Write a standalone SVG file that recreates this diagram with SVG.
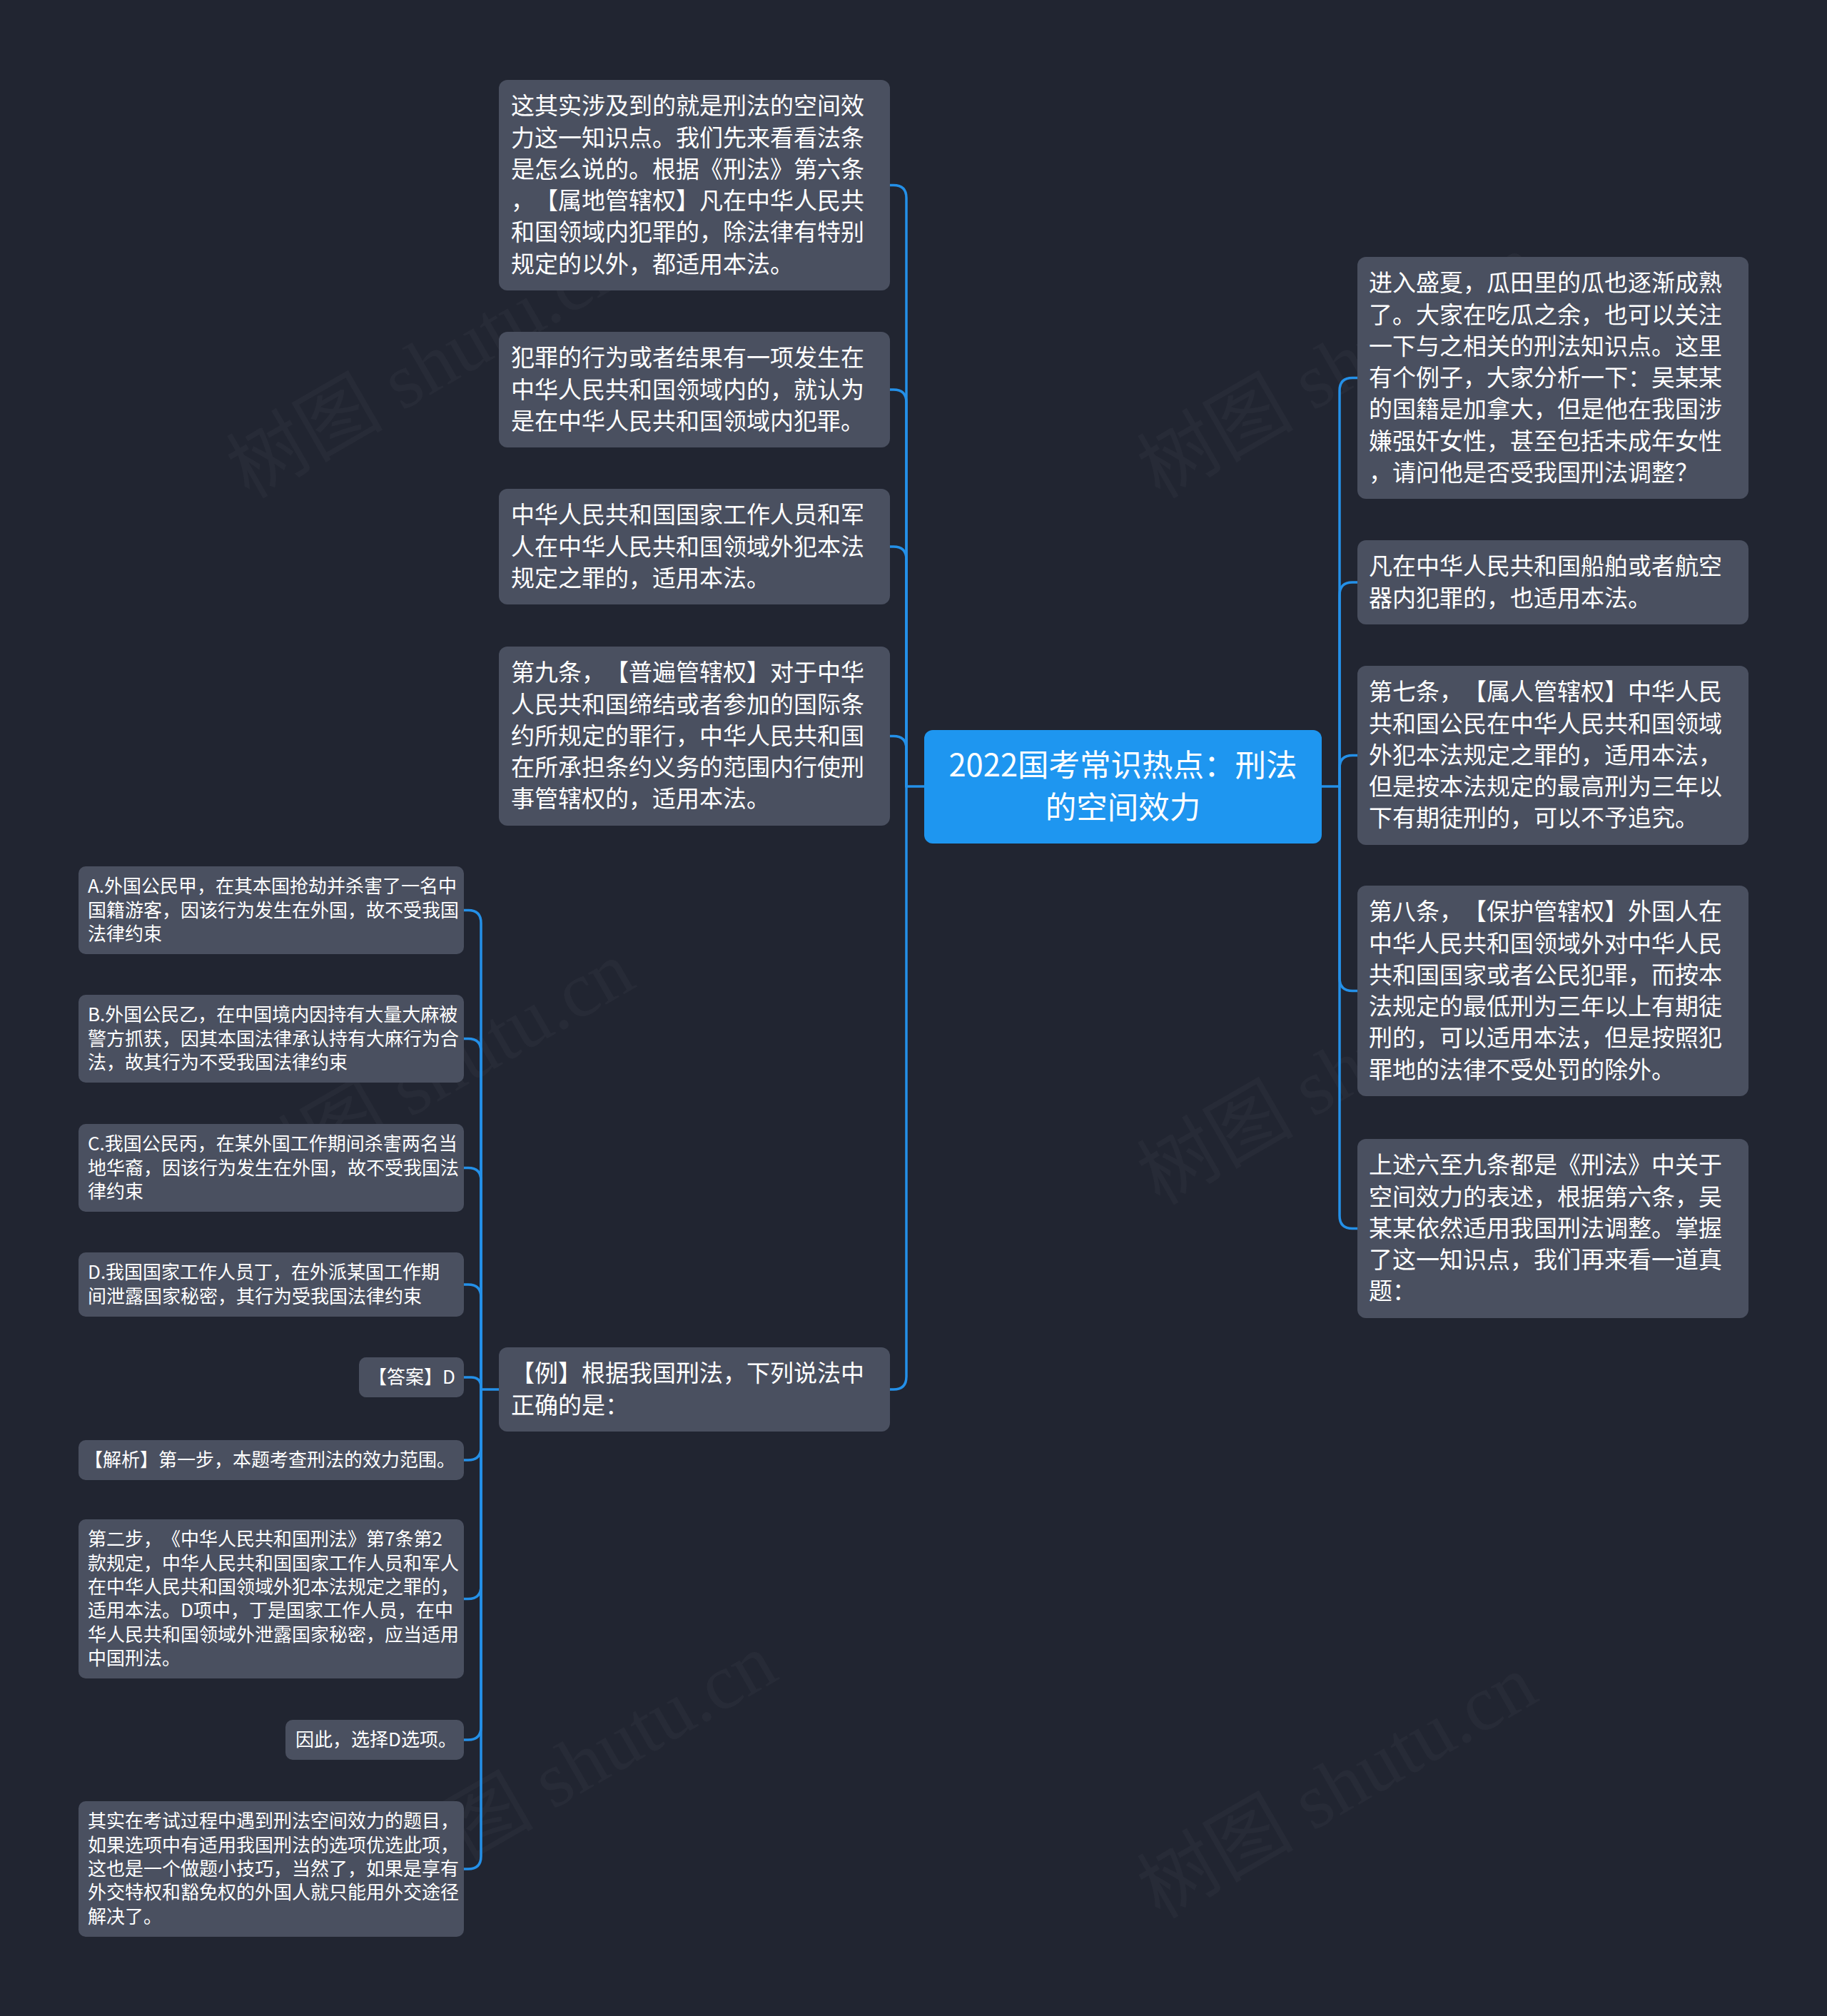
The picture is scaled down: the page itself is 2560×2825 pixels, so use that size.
<svg xmlns="http://www.w3.org/2000/svg" width="2560" height="2825" viewBox="0 0 2560 2825">
<style>
.bg{fill:#212531}
.node rect{fill:#4a5060}
.root rect{fill:#1e96f0}
.t{font-family:"Noto Sans CJK SC","Noto Sans",sans-serif;fill:#ffffff;text-spacing-trim:space-all}
.m{font-size:33px}
.s{font-size:26px}
.r{font-size:43.5px}
.wm{font-family:"Liberation Serif","Noto Sans CJK SC",serif;font-size:110px;fill:#ffffff;fill-opacity:0.03}
#connectors path{fill:none;stroke:#2490e8;stroke-width:3.5;stroke-linecap:round}
</style>
<rect class="bg" x="0" y="0" width="2560" height="2825"/>
<g id="watermarks">
<text class="wm" transform="translate(349,700) rotate(-30)">树图 shutu.cn</text>
<text class="wm" transform="translate(1625,700) rotate(-30)">树图 shutu.cn</text>
<text class="wm" transform="translate(360,1690) rotate(-30)">树图 shutu.cn</text>
<text class="wm" transform="translate(1625,1690) rotate(-30)">树图 shutu.cn</text>
<text class="wm" transform="translate(560,2660) rotate(-30)">树图 shutu.cn</text>
<text class="wm" transform="translate(1625,2690) rotate(-30)">树图 shutu.cn</text>
</g>
<g id="connectors">
<path d="M1295,1102 H1270"/>
<path d="M1270,1102 V277.5 Q1270,259.5 1252,259.5 H1247"/>
<path d="M1270,1102 V564 Q1270,546 1252,546 H1247"/>
<path d="M1270,1102 V784 Q1270,766 1252,766 H1247"/>
<path d="M1270,1102 V1049.5 Q1270,1031.5 1252,1031.5 H1247"/>
<path d="M1270,1102 V1929 Q1270,1947 1252,1947 H1247"/>
<path d="M1852,1102 H1877"/>
<path d="M1877,1102 V547.5 Q1877,529.5 1895,529.5 H1902"/>
<path d="M1877,1102 V834 Q1877,816 1895,816 H1902"/>
<path d="M1877,1102 V1076.5 Q1877,1058.5 1895,1058.5 H1902"/>
<path d="M1877,1102 V1370.5 Q1877,1388.5 1895,1388.5 H1902"/>
<path d="M1877,1102 V1703.5 Q1877,1721.5 1895,1721.5 H1902"/>
<path d="M699,1947 H674"/>
<path d="M674,1947 V1293.5 Q674,1275.5 656,1275.5 H650"/>
<path d="M674,1947 V1473.5 Q674,1455.5 656,1455.5 H650"/>
<path d="M674,1947 V1654.5 Q674,1636.5 656,1636.5 H650"/>
<path d="M674,1947 V1818 Q674,1800 656,1800 H650"/>
<path d="M674,1947 V1944 Q674,1930 660,1930 H650"/>
<path d="M674,1947 V2028 Q674,2046 656,2046 H650"/>
<path d="M674,1947 V2222.5 Q674,2240.5 656,2240.5 H650"/>
<path d="M674,1947 V2420 Q674,2438 656,2438 H650"/>
<path d="M674,1947 V2601 Q674,2619 656,2619 H650"/>
</g>
<g id="root" class="root">
<rect x="1295" y="1023" width="557" height="159" rx="12"/>
<text class="t r" text-anchor="middle" x="1573.5" y="1088"><tspan x="1573.5">2022国考常识热点：刑法</tspan><tspan x="1573.5" dy="59">的空间效力</tspan></text>
</g>
<g id="n-l1" class="node">
<rect x="699" y="112" width="548" height="295" rx="12"/>
<text class="t m" x="716" y="160.2"><tspan x="716">这其实涉及到的就是刑法的空间效</tspan><tspan x="716" dy="44.3">力这一知识点。我们先来看看法条</tspan><tspan x="716" dy="44.3">是怎么说的。根据《刑法》第六条</tspan><tspan x="716" dy="44.3">，【属地管辖权】凡在中华人民共</tspan><tspan x="716" dy="44.3">和国领域内犯罪的，除法律有特别</tspan><tspan x="716" dy="44.3">规定的以外，都适用本法。</tspan></text>
</g>
<g id="n-l2" class="node">
<rect x="699" y="465" width="548" height="162" rx="12"/>
<text class="t m" x="716" y="513.2"><tspan x="716">犯罪的行为或者结果有一项发生在</tspan><tspan x="716" dy="44.3">中华人民共和国领域内的，就认为</tspan><tspan x="716" dy="44.3">是在中华人民共和国领域内犯罪。</tspan></text>
</g>
<g id="n-l3" class="node">
<rect x="699" y="685" width="548" height="162" rx="12"/>
<text class="t m" x="716" y="733.2"><tspan x="716">中华人民共和国国家工作人员和军</tspan><tspan x="716" dy="44.3">人在中华人民共和国领域外犯本法</tspan><tspan x="716" dy="44.3">规定之罪的，适用本法。</tspan></text>
</g>
<g id="n-l4" class="node">
<rect x="699" y="906" width="548" height="251" rx="12"/>
<text class="t m" x="716" y="954.2"><tspan x="716">第九条，【普遍管辖权】对于中华</tspan><tspan x="716" dy="44.3">人民共和国缔结或者参加的国际条</tspan><tspan x="716" dy="44.3">约所规定的罪行，中华人民共和国</tspan><tspan x="716" dy="44.3">在所承担条约义务的范围内行使刑</tspan><tspan x="716" dy="44.3">事管辖权的，适用本法。</tspan></text>
</g>
<g id="n-l5" class="node">
<rect x="699" y="1888" width="548" height="118" rx="12"/>
<text class="t m" x="716" y="1936.2"><tspan x="716">【例】根据我国刑法，下列说法中</tspan><tspan x="716" dy="44.3">正确的是：</tspan></text>
</g>
<g id="n-r1" class="node">
<rect x="1902" y="360" width="548" height="339" rx="12"/>
<text class="t m" x="1918" y="408.2"><tspan x="1918">进入盛夏，瓜田里的瓜也逐渐成熟</tspan><tspan x="1918" dy="44.3">了。大家在吃瓜之余，也可以关注</tspan><tspan x="1918" dy="44.3">一下与之相关的刑法知识点。这里</tspan><tspan x="1918" dy="44.3">有个例子，大家分析一下：吴某某</tspan><tspan x="1918" dy="44.3">的国籍是加拿大，但是他在我国涉</tspan><tspan x="1918" dy="44.3">嫌强奸女性，甚至包括未成年女性</tspan><tspan x="1918" dy="44.3">，请问他是否受我国刑法调整？</tspan></text>
</g>
<g id="n-r2" class="node">
<rect x="1902" y="757" width="548" height="118" rx="12"/>
<text class="t m" x="1918" y="805.2"><tspan x="1918">凡在中华人民共和国船舶或者航空</tspan><tspan x="1918" dy="44.3">器内犯罪的，也适用本法。</tspan></text>
</g>
<g id="n-r3" class="node">
<rect x="1902" y="933" width="548" height="251" rx="12"/>
<text class="t m" x="1918" y="981.2"><tspan x="1918">第七条，【属人管辖权】中华人民</tspan><tspan x="1918" dy="44.3">共和国公民在中华人民共和国领域</tspan><tspan x="1918" dy="44.3">外犯本法规定之罪的，适用本法，</tspan><tspan x="1918" dy="44.3">但是按本法规定的最高刑为三年以</tspan><tspan x="1918" dy="44.3">下有期徒刑的，可以不予追究。</tspan></text>
</g>
<g id="n-r4" class="node">
<rect x="1902" y="1241" width="548" height="295" rx="12"/>
<text class="t m" x="1918" y="1289.2"><tspan x="1918">第八条，【保护管辖权】外国人在</tspan><tspan x="1918" dy="44.3">中华人民共和国领域外对中华人民</tspan><tspan x="1918" dy="44.3">共和国国家或者公民犯罪，而按本</tspan><tspan x="1918" dy="44.3">法规定的最低刑为三年以上有期徒</tspan><tspan x="1918" dy="44.3">刑的，可以适用本法，但是按照犯</tspan><tspan x="1918" dy="44.3">罪地的法律不受处罚的除外。</tspan></text>
</g>
<g id="n-r5" class="node">
<rect x="1902" y="1596" width="548" height="251" rx="12"/>
<text class="t m" x="1918" y="1644.2"><tspan x="1918">上述六至九条都是《刑法》中关于</tspan><tspan x="1918" dy="44.3">空间效力的表述，根据第六条，吴</tspan><tspan x="1918" dy="44.3">某某依然适用我国刑法调整。掌握</tspan><tspan x="1918" dy="44.3">了这一知识点，我们再来看一道真</tspan><tspan x="1918" dy="44.3">题：</tspan></text>
</g>
<g id="n-a" class="node">
<rect x="110" y="1214" width="540" height="123" rx="10"/>
<text class="t s" x="123" y="1251.3"><tspan x="123">A.外国公民甲，在其本国抢劫并杀害了一名中</tspan><tspan x="123" dy="33.3">国籍游客，因该行为发生在外国，故不受我国</tspan><tspan x="123" dy="33.3">法律约束</tspan></text>
</g>
<g id="n-b" class="node">
<rect x="110" y="1394" width="540" height="123" rx="10"/>
<text class="t s" x="123" y="1431.3"><tspan x="123">B.外国公民乙，在中国境内因持有大量大麻被</tspan><tspan x="123" dy="33.3">警方抓获，因其本国法律承认持有大麻行为合</tspan><tspan x="123" dy="33.3">法，故其行为不受我国法律约束</tspan></text>
</g>
<g id="n-c" class="node">
<rect x="110" y="1575" width="540" height="123" rx="10"/>
<text class="t s" x="123" y="1612.3"><tspan x="123">C.我国公民丙，在某外国工作期间杀害两名当</tspan><tspan x="123" dy="33.3">地华裔，因该行为发生在外国，故不受我国法</tspan><tspan x="123" dy="33.3">律约束</tspan></text>
</g>
<g id="n-d" class="node">
<rect x="110" y="1755" width="540" height="90" rx="10"/>
<text class="t s" x="123" y="1792.3"><tspan x="123">D.我国国家工作人员丁，在外派某国工作期</tspan><tspan x="123" dy="33.3">间泄露国家秘密，其行为受我国法律约束</tspan></text>
</g>
<g id="n-answer" class="node">
<rect x="503" y="1902" width="147" height="56" rx="10"/>
<text class="t s" x="516" y="1939.3">【答案】D</text>
</g>
<g id="n-analysis" class="node">
<rect x="110" y="2018" width="540" height="56" rx="10"/>
<text class="t s" x="118" y="2055.3">【解析】第一步，本题考查刑法的效力范围。</text>
</g>
<g id="n-step2" class="node">
<rect x="110" y="2129" width="540" height="223" rx="10"/>
<text class="t s" x="123" y="2166.3"><tspan x="123">第二步，《中华人民共和国刑法》第7条第2</tspan><tspan x="123" dy="33.3">款规定，中华人民共和国国家工作人员和军人</tspan><tspan x="123" dy="33.3">在中华人民共和国领域外犯本法规定之罪的，</tspan><tspan x="123" dy="33.3">适用本法。D项中，丁是国家工作人员，在中</tspan><tspan x="123" dy="33.3">华人民共和国领域外泄露国家秘密，应当适用</tspan><tspan x="123" dy="33.3">中国刑法。</tspan></text>
</g>
<g id="n-choose" class="node">
<rect x="400" y="2410" width="250" height="56" rx="10"/>
<text class="t s" x="414" y="2447.3">因此，选择D选项。</text>
</g>
<g id="n-tip" class="node">
<rect x="110" y="2524" width="540" height="190" rx="10"/>
<text class="t s" x="123" y="2561.3"><tspan x="123">其实在考试过程中遇到刑法空间效力的题目，</tspan><tspan x="123" dy="33.3">如果选项中有适用我国刑法的选项优选此项，</tspan><tspan x="123" dy="33.3">这也是一个做题小技巧，当然了，如果是享有</tspan><tspan x="123" dy="33.3">外交特权和豁免权的外国人就只能用外交途径</tspan><tspan x="123" dy="33.3">解决了。</tspan></text>
</g>
</svg>
